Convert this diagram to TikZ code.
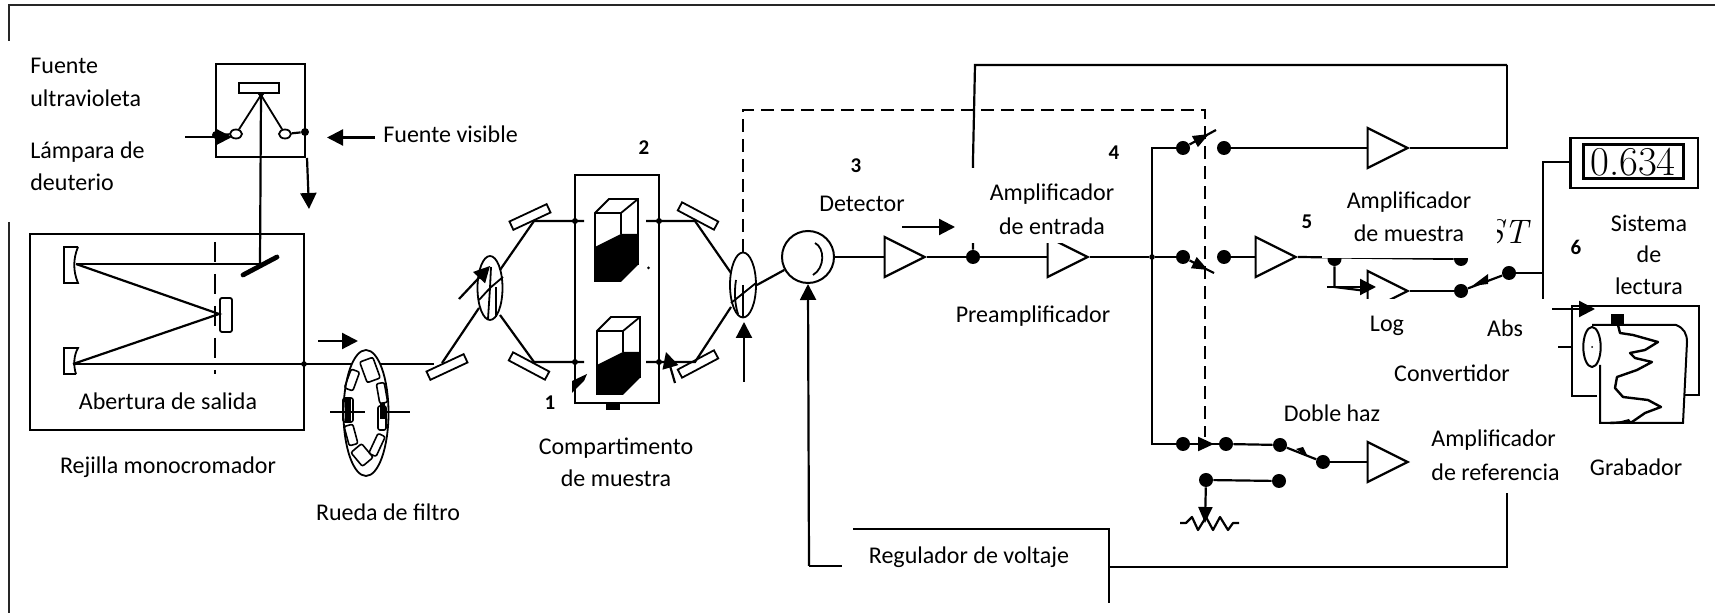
\documentclass[tikz,border=0pt]{standalone}
\usepackage{fontspec}
\setmainfont{Carlito}
\usetikzlibrary{arrows.meta}
\usetikzlibrary{shapes.geometric}
\tikzset{
 wire/.style={black,line width=1.1pt},
 thinbox/.style={black,line width=.9pt},
 flecha/.style={black,line width=1.1pt,-{Triangle[length=8pt,width=8pt]}},
 dot/.style={circle,fill=black,inner sep=0,minimum size=7pt},
 smalldot/.style={circle,fill=black,inner sep=0,minimum size=2.8pt},
 amp/.style={draw,line width=1.1pt,isosceles triangle,isosceles triangle apex angle=55,isosceles triangle stretches,minimum width=20pt,minimum height=20pt,inner sep=0,anchor=apex},
 mirror/.style={draw,line width=.9pt,fill=white,minimum width=20.5pt,minimum height=4.6pt,inner sep=0},
 chopper/.style={draw,line width=.9pt,ellipse,minimum width=12.5pt,minimum height=32pt,inner sep=0},
 ventana/.style={draw,line width=.8pt,rounded corners=1pt,inner sep=0},
 etiqueta/.style={font=\fontsize{12}{14}\selectfont,inner sep=0},
 num/.style={font=\fontsize{10.5}{12}\selectfont\bfseries,inner sep=0},
}
\begin{document}
\begin{tikzpicture}[x=.5pt,y=-.5pt]
\useasboundingbox (0,0) rectangle (1715,613);

\fill[white] (0,0) rectangle (1715,613);
\draw[black!85,line width=1pt] (8.5,41)--(8.5,5)--(1715,5);
\draw[black!85,line width=1pt] (8.5,222)--(8.5,613);

% lamp box
\draw[thinbox,line width=1.1pt] (216,64) rectangle (305,157);
\draw[thinbox] (239,83) rectangle (279,93);
\coordinate (apex) at (261,95);
\node[dot,minimum size=4pt] (d1) at (216,135) {};
\node[dot,minimum size=4pt] (d2) at (305,132) {};
\node[draw,line width=.9pt,ellipse,minimum width=6pt,minimum height=4.5pt,inner sep=0] (lampL) at (236,134) {};
\node[draw,line width=.9pt,ellipse,minimum width=6pt,minimum height=4.5pt,inner sep=0] (lampR) at (285,134) {};
\draw[thinbox] (lampL)--(apex)--(lampR);
\draw[wire] (d1)--(lampL);
\draw[wire] (lampR)--(d2);
\fill (apex) ++(-4,-2)--++(8,0)--++(-4,5)--cycle;
\coordinate (fold) at (260,264);
\draw[wire] (apex)--(fold);

% monochromator
\draw[thinbox,line width=1.1pt] (30,234) rectangle (304,430);
\draw[thinbox,dash pattern=on 10pt off 6pt,line width=1.4pt] (215,242)--(215,374);
\draw[thinbox,fill=white] (78,247)--(64,247)--(64,283)--(78,283) .. controls (73,271) and (73,259) .. (78,247);
\draw[thinbox] (76,374)--(64,374)--(64,348)--(78,348) .. controls (74,355) and (73,365) .. (76,374);
\draw[line width=2.4pt,line cap=round] (243,275)--(277,257);
\draw[thinbox,fill=white,rounded corners=1pt] (220,298) rectangle (232,332);
\coordinate (m1) at (76,264);
\coordinate (g1) at (219,314);
\coordinate (m2) at (73,364);
\draw[wire] (m1)--(fold);
\draw[wire] (m1)--(g1)--(m2);

% filter wheel
\draw[wire] (m2)--(434,364);
\node[mirror,rotate=25] (mirA) at (447,367) {};
\node[smalldot] (jW) at (304,364) {};
\draw[thinbox,fill=white] (366,413) ellipse [x radius=22.5,y radius=63];
\draw[wire] (m2)--(350,364);
\draw[wire] (384,364)--(434,364);
\foreach \xf/\yf/\af/\wf/\hf [count=\i] in {370/370/20/7/11, 352/380/-20/4.5/10, 382/393/10/4/10, 348/410/0/5/12, 382/418/0/4/12, 351/435/15/4.5/10, 377/445/-25/4/11, 362/455/40/7/9}
 \node[ventana,rotate=\af,minimum width=\wf pt,minimum height=\hf pt] (ven\i) at (\xf,\yf) {};
\fill[black] (345,399) rectangle (351,421);
\fill[black] (380,403) rectangle (385,419);
\draw[wire] (330,412)--(365,412);
\draw[wire] (382,412)--(410,412);

% chopper and cell compartment
\node[chopper] (chopA) at (490,288) {};
\node[chopper,minimum width=13pt,minimum height=32.5pt] (chopB) at (743,285) {};
\draw[thinbox] (491,267)--(490,288)--(503,277);
\draw[thinbox] (479,300)--(490,288)--(488,319);
\draw[thinbox] (496,287)--(496,317);
\draw[thinbox] (731,303)--(756,283);
\draw[thinbox] (743,285)--(743,317);
\draw[thinbox] (736,280) .. controls (734,292) and (735,305) .. (738,314);
\node[mirror,rotate=25] (mirB) at (530,217) {};
\node[mirror,rotate=-28] (mirC) at (529,366) {};
\node[mirror,rotate=-28] (mirD) at (698,216) {};
\node[mirror,rotate=28] (mirE) at (698,364) {};
\draw[wire] (442,363)--(479,308);
\draw[wire] (500,270)--(534,221)--(584,221);
\draw[wire] (500,315)--(534,362)--(584,362);
\draw[wire] (646,221)--(695,221)--(731,273);
\draw[wire] (646,362)--(695,362)--(731,307);
\draw[thinbox,line width=1.2pt] (575,175) rectangle (659,403);
\fill[black] (606,403) rectangle (620,410);
\foreach \d in {(575,221),(659,221),(575,362),(659,362)}
 \fill \d circle (3);
\fill (648.5,268) circle (1.5);
\foreach \xc/\yc/\hc in {595/199/83, 597/317/78} {
 \fill[black] (\xc,\yc+48)--(\xc+26,\yc+35)--(\xc+43,\yc+35)--(\xc+43,\yc+\hc-17)--(\xc+26,\yc+\hc)--(\xc,\yc+\hc)--cycle;
 \draw[thinbox] (\xc,\yc+\hc)--(\xc,\yc+14)--(\xc+14,\yc)--(\xc+43,\yc)--(\xc+43,\yc+\hc-17);
 \draw[thinbox] (\xc,\yc+14)--(\xc+26,\yc+14)--(\xc+43,\yc);
 \draw[thinbox] (\xc+26,\yc+14)--(\xc+26,\yc+35);
};
\fill[black] (572,393)--(572,381)--(587,374)--(584,381)--cycle;

% detector
\node[draw,circle,line width=1pt,minimum size=26pt,inner sep=0] (det) at (808,257) {};
\draw[thinbox] (815,243) .. controls (825,248) and (825,268) .. (813,275);
\draw[wire] (chopB.east)--(det);

% preamp chain
\node[amp] (ampA) at (927,257) {};
\node[dot] (jA) at (973,257) {};
\node[amp] (ampB) at (1090,257) {};
\draw[wire] (det)--(ampA.west);
\draw[wire] (ampA.apex)--(jA)--(ampB.west);
\coordinate (top1) at (975,65);
\coordinate (top2) at (1507,65);
\coordinate (bus1) at (1152,148);
\coordinate (bus2) at (1152,444);
\node[smalldot] (jB) at (1152,257) {};
\draw[wire] (ampB.apex)--(jB);
\draw[wire] (jA)--(973,160)--(top1)--(top2);

% dashed link
\draw[black,line width=.8pt,dash pattern=on 6.5pt off 3.5pt] (chopB.north)--(743,110)--(1205,110)--(1205,437);

% switches
\node[dot] (s1) at (1183,148) {};
\node[dot] (s2) at (1224,148) {};
\node[dot] (s3) at (1183,257) {};
\node[dot] (s4) at (1224,257) {};
\node[dot] (s5) at (1183,444) {};
\node[dot] (s6) at (1226,444) {};
\node[dot] (s7) at (1280,445) {};
\node[dot] (s8) at (1323,462) {};
\node[dot] (s9) at (1206,480) {};
\node[dot] (s10) at (1279,481) {};
\draw[wire] (s1)--(bus1)--(bus2)--(s5);
\draw[wire] (jB)--(s3);
\draw[wire,-{Triangle[length=8pt,width=6pt]}] (s1)--(1209,134);
\draw[wire] (1205,136)--(1216,130);
\draw[wire,-{Triangle[length=8pt,width=6pt]}] (s3)--(1208,270);
\draw[wire] (1204,268)--(1214,273);
\draw[wire] (s5)--(s6);
\draw[wire,-{Triangle[length=8pt,width=7pt]}] (s5)--(1214,444);
\draw[wire] (s6)--(s7);
\draw[wire] (s7)--(s8);
\fill (1308,457)--(1296,449)--(1303,447)--cycle;
\draw[wire] (s9)--(s10);
\coordinate (rest) at (1205,523);
\draw[wire,-{Triangle[length=8pt,width=7pt]}] (s9)--(rest);
\draw[wire,line join=round] (1180,523)--(1186,523)--(1192,517)--(1198,530)--(1206,517)--(1213,530)--(1220,517)--(1228,530)--(1233,523)--(1239,523);

% amplifiers
\node[amp] (ampC) at (1410,148) {};
\node[amp] (ampD) at (1298,257) {};
\node[amp] (ampE) at (1410,291) {};
\node[amp] (ampF) at (1410,462) {};
\draw[wire] (s2)--(ampC.west);
\draw[wire] (ampC.apex)--(1507,148)--(top2);
\draw[wire] (s4)--(ampD.west);
\draw[wire] (s8)--(ampF.west);

\node[dot] (jC) at (1334.5,259) {};
\node[dot] (jD) at (1461,259) {};
\node[dot] (s11) at (1461,291) {};
\node[dot] (s12) at (1509,273) {};
\draw[wire] (ampD.apex)--(jD);
\draw[wire] (jC)--(1334.5,287)--(ampE.west);
\draw[wire] (ampE.apex)--(s11);
\draw[wire] (s11)--(s12);
\fill (1472,286)--(1488,274)--(1488,284)--cycle;
\coordinate (rd1) at (1543,162);
\coordinate (rd2) at (1543,300);
\draw[wire] (s12)--(1543,273);
\draw[wire] (rd2)--(rd1)--(1570,162);

% readout
\draw[thinbox,line width=1.1pt] (1570.5,138) rectangle (1698,188);
\draw[thinbox,line width=1.5pt] (1583,145) rectangle (1683.5,179);
\node[font=\fontfamily{lmr}\fontsize{20.5}{20}\selectfont,inner sep=0] (lectura) at (1633,162) {0.634};

% feedback wire
\coordinate (fb1) at (1507,493);
\coordinate (fb2) at (1507,567);
\coordinate (fb3) at (1109,567);
\draw[wire] (fb1)--(fb2)--(fb3);
\coordinate (fb4) at (809,566);
\draw[wire] (fb4)--(842,566);
\draw[flecha] (fb4)--(det.south);
\draw[black,line width=.9pt] (853,529)--(1109,529)--(1109,603);

% recorder
\draw[wire] (1597,396)--(1572,396)--(1572,306)--(1699,306)--(1699,395)--(1683,395);
\draw[wire] (1558,347)--(1572,347);
\draw[thinbox,line width=1pt,fill=white] (1592,325)--(1676,325) .. controls (1684,328) and (1687,334) .. (1687,342)--(1683,423)--(1600,423)--(1600,365);
\draw[thinbox,line width=1pt,fill=white] (1592,347) ellipse [x radius=8.7,y radius=20];
\fill (1592,347) circle (1);
\fill (1611,314) rectangle (1624,325);
\draw[black,line width=1.2pt,line join=round] (1618,325)--(1620,333)--(1633,335)--(1658,342)--(1645,350)--(1630,353)--(1635,358)--(1652,362)--(1637,370)--(1617,377)--(1615,388)--(1623,397)--(1648,400)--(1661,407)--(1645,413)--(1632,422)--(1610,423);
\fill (1610,424)--(1629,419)--(1632,424)--cycle;

% overlay strips under labels
\fill[white] (965,168) rectangle (1125,243);
\fill[white] (1322,190) rectangle (1495,258.5);
\fill[white] (1300,299.5) rectangle (1556,420);
\fill[white] (1420,420) rectangle (1570,493);
\begin{scope}
 \clip (1497,210) rectangle (1540,250);
 \node[font=\fontfamily{lmr}\fontsize{17}{17}\selectfont\itshape,inner sep=0,anchor=east] (st) at (1528,232) {ST};
\end{scope}

% arrows over the picture
\draw[flecha] (185,137)--(232,137);
\draw[flecha] (375,137.5)--(327,137.5);
\draw[flecha] (307,158)--(309,209);
\draw[flecha] (318,341)--(358,341);
\draw[flecha] (459,299)--(490,266);
\draw[flecha] (744,382)--(744,322);
\draw[flecha] (675,383)--(666,352);
\draw[flecha] (902,227)--(955,227);
\draw[flecha] (1327,287)--(1376,287);
\draw[flecha] (1552,309)--(1595,309);

% labels
\node[etiqueta,anchor=west] (fuv1) at (30,66) {Fuente};
\node[etiqueta,anchor=west] (fuv2) at (30,98) {ultravioleta};
\node[etiqueta,anchor=west] (lam1) at (30,152) {Lámpara de};
\node[etiqueta,anchor=west] (lam2) at (30,182) {deuterio};
\node[etiqueta,anchor=west] (fvis) at (383,134) {Fuente visible};
\node[etiqueta] (aber) at (168,401) {Abertura de salida};
\node[etiqueta] (reji) at (168,467) {Rejilla monocromador};
\node[etiqueta] (rueda) at (388,512) {Rueda de filtro};
\node[etiqueta] (comp1) at (616,448) {Compartimento};
\node[etiqueta] (comp2) at (616,478) {de muestra};
\node[etiqueta] (detec) at (862,204) {Detector};
\node[etiqueta] (ampe1) at (1052,194) {Amplificador};
\node[etiqueta] (ampe2) at (1052,226) {de entrada};
\node[etiqueta] (pream) at (1033,316) {Preamplificador};
\node[etiqueta] (ampm1) at (1409,202) {Amplificador};
\node[etiqueta] (ampm2) at (1409,233) {de muestra};
\node[etiqueta] (sis1) at (1649,223) {Sistema};
\node[etiqueta] (sis2) at (1649,254) {de};
\node[etiqueta] (sis3) at (1649,286) {lectura};
\node[etiqueta] (log) at (1387,326) {Log};
\node[etiqueta] (abs) at (1505,328) {Abs};
\node[etiqueta] (conv) at (1452,373) {Convertidor};
\node[etiqueta] (doble) at (1332,413) {Doble haz};
\node[etiqueta,anchor=west] (ampr1) at (1431,440) {Amplificador};
\node[etiqueta,anchor=west] (ampr2) at (1431,472) {de referencia};
\node[etiqueta] (grab) at (1636,467) {Grabador};
\node[etiqueta] (regu) at (969,557) {Regulador de voltaje};
\node[num] (n1) at (550,403) {1};
\node[num] (n2) at (644,148) {2};
\node[num] (n3) at (856,166) {3};
\node[num] (n4) at (1114,153) {4};
\node[num] (n5) at (1307,222) {5};
\node[num] (n6) at (1576,247) {6};
\end{tikzpicture}
\end{document}
